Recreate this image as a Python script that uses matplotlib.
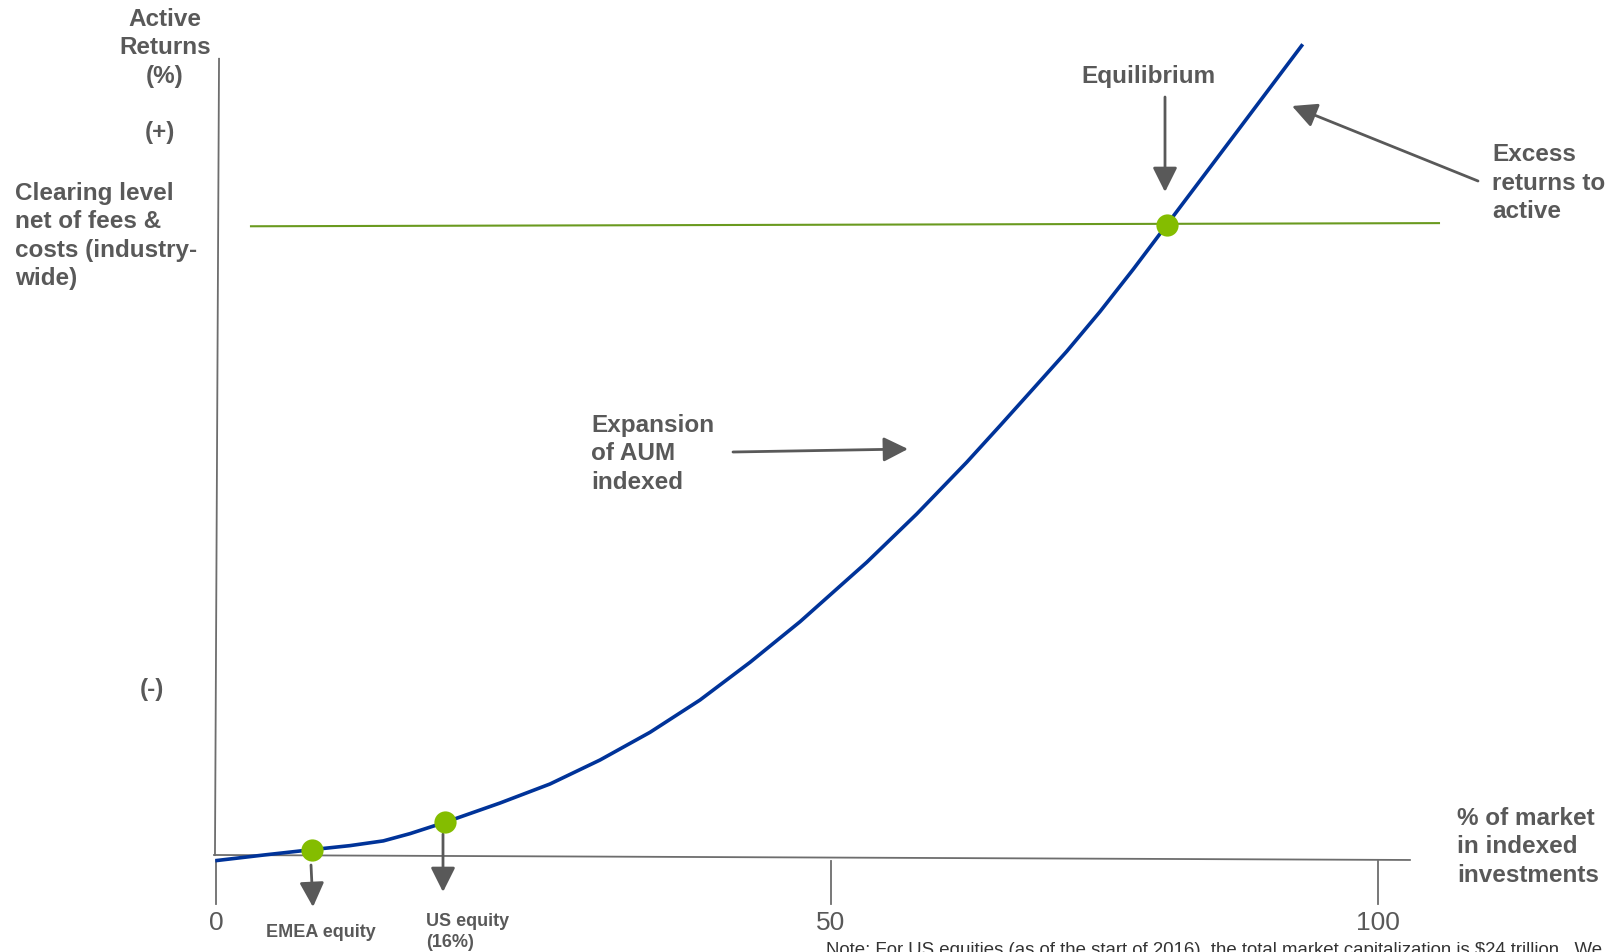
import matplotlib
matplotlib.use("Agg")
import matplotlib.pyplot as plt

# Active returns vs share of the market held in indexed investments
pct_indexed = [0.09, 4.13, 8.24, 11.53, 14.40, 16.70, 19.71, 24.44, 28.74,
               33.05, 37.35, 41.65, 45.96, 50.26, 56.00, 60.30, 64.60, 67.47,
               70.31, 73.21, 76.08, 78.94, 81.81, 87.55, 93.43]
active_return = [-0.55, 0.32, 1.16, 1.80, 2.55, 3.70, 5.49, 8.54, 11.55,
                 15.35, 19.73, 24.84, 30.81, 37.23, 46.63, 54.27, 62.45, 68.24,
                 74.05, 80.00, 86.30, 93.00, 100.00, 114.00, 128.37]

# Highlighted markets and the equilibrium point
marker_x = [8.24, 19.71, 81.81]
marker_y = [1.16, 5.49, 100.00]

# Clearing level net of fees & costs
clearing_x = [3.01, 105.25]
clearing_y = [99.8, 100.3]

tick_values = [0, 52.93, 100]
tick_labels = ["0", "50", "100"]

W, H = 1612, 953
GREY = "#595959"
AXIS = "#6d6d6d"
BOLD = dict(family=["Liberation Sans", "DejaVu Sans"], fontweight="bold", color=GREY)
NARROW = ["Liberation Sans Narrow", "Liberation Sans", "DejaVu Sans"]

fig = plt.figure(figsize=(W / 100, H / 100), dpi=100)
ax = fig.add_axes([0, 0, 1, 1])
ax.set_xlim(-18.59, 120.14)
ax.set_ylim(-15.03, 135.76)
ax.axis("off")

# hand-drawn looking axes
ax.plot([0.26, -0.09], [126.3, 0.3], color=AXIS, lw=1.3)
ax.plot([-0.17, 102.75], [0.32, -0.47], color=AXIS, lw=1.3)
for tv, tl in zip(tick_values, tick_labels):
    ax.plot([tv, tv], [-0.6, -7.4], color=AXIS, lw=1.3)
    ax.text(tv, -10.3, tl, ha="center", va="center", fontsize=19,
            family=NARROW, color=GREY)

ax.plot(clearing_x, clearing_y, color="#6a9a1f", lw=1.5, zorder=2)
ax.plot(pct_indexed, active_return, color="#003399", lw=2.6,
        solid_joinstyle="round", zorder=3)
ax.plot(marker_x, marker_y, "o", color="#84bd00", ms=16, mec="none", zorder=4)


def fig_text(x, y, s, **kw):
    fig.text(x / W, 1 - y / H, s, **kw)


def arrow(x0, y0, x1, y1):
    ax.annotate("", xy=(x1, H - y1), xytext=(x0, H - y0),
                xycoords="figure pixels", textcoords="figure pixels",
                arrowprops=dict(arrowstyle="-|>,head_length=0.6,head_width=0.3",
                                color=GREY, lw=2, mutation_scale=25,
                                shrinkA=0, shrinkB=0))


fig_text(165, 48, "Active\nReturns\n(%)", ha="center", va="center",
         multialignment="center", fontsize=17.5, linespacing=1.28, **BOLD)
fig_text(160, 132, "(+)", ha="center", va="center", fontsize=17.5, **BOLD)
fig_text(152, 690, "(-)", ha="center", va="center", fontsize=17.5, **BOLD)
fig_text(15, 236, "Clearing level\nnet of fees &\ncosts (industry-\nwide)",
         ha="left", va="center", fontsize=17.5, linespacing=1.28, **BOLD)
fig_text(1148, 77, "Equilibrium", ha="center", va="center", fontsize=17.5, **BOLD)
fig_text(1492, 183, "Excess\nreturns to\nactive", ha="left", va="center",
         fontsize=17.5, linespacing=1.28, **BOLD)
fig_text(591, 454, "Expansion\nof AUM\nindexed", ha="left", va="center",
         fontsize=17.5, linespacing=1.28, **BOLD)
fig_text(1457, 847, "% of market\nin indexed\ninvestments", ha="left",
         va="center", fontsize=17.5, linespacing=1.28, **BOLD)
fig_text(321, 933, "EMEA equity", ha="center", va="center", fontsize=13, **BOLD)
fig_text(426, 932, "US equity\n(16%)", ha="left", va="center", fontsize=13,
         linespacing=1.24, **BOLD)
# footnote runs past the bottom edge of the slide
fig_text(826, 942, "Note: For US equities (as of the start of 2016), the total "
         "market capitalization is $24 trillion.  We", ha="left", va="top",
         fontsize=13.4, family=NARROW, color="#333333")

arrow(1165, 98, 1165, 193)
arrow(1478, 182, 1292, 107)
arrow(733, 453, 908, 450)
arrow(311, 866, 313, 908)
arrow(443, 835, 443, 893)

fig.savefig("out.png", dpi=100)
